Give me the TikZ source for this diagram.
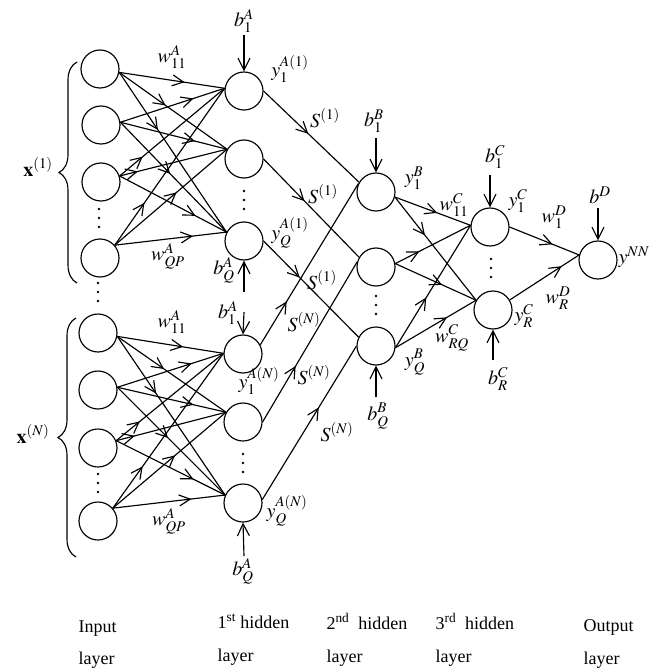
\documentclass[tikz,border=0pt]{standalone}
\usepackage{mathptmx}
\usepackage{fontspec}
\setmainfont{Liberation Serif}
\usetikzlibrary{arrows.meta,decorations.markings,decorations.pathreplacing}
\begin{document}
\begin{tikzpicture}[x=1pt,y=-1pt,line width=1.15pt,
  neuron/.style={circle,draw,minimum size=38pt,inner sep=0pt},
  lab/.style={inner sep=0pt,font=\fontsize{20}{24}\selectfont},
  txt/.style={inner sep=0pt,anchor=base west,font=\fontsize{18}{22}\selectfont},
  biasarr/.style={-{Straight Barb[length=12pt,width=12pt]}},
  midarr/.style={postaction={decorate},decoration={markings,mark=at position #1 with {\arrow{Straight Barb[length=11pt,width=11pt]}}}},
  grpbrace/.style={decorate,decoration={brace,amplitude=18pt}}
]
\path[use as bounding box] (0,0) rectangle (662,671);

% input layer, group 1
\node[neuron] (i1) at (100,69) {};
\node[neuron] (i2) at (101,125) {};
\node[neuron] (i3) at (101,182) {};
\node[neuron] (i4) at (100,258) {};
% input layer, group 2
\node[neuron] (j1) at (98,333) {};
\node[neuron] (j2) at (98,390) {};
\node[neuron] (j3) at (98,448) {};
\node[neuron] (j4) at (98,521) {};
% 1st hidden layer
\node[neuron] (a1) at (244,91) {};
\node[neuron] (a2) at (244,159) {};
\node[neuron] (a3) at (244,241) {};
\node[neuron] (c1) at (243,354) {};
\node[neuron] (c2) at (243,422) {};
\node[neuron] (c3) at (243,503) {};
% 2nd hidden layer
\node[neuron] (b1) at (376,192) {};
\node[neuron] (b2) at (376,267) {};
\node[neuron] (b3) at (376,346) {};
% 3rd hidden layer
\node[neuron] (d1) at (490,227) {};
\node[neuron] (d2) at (493,310) {};
% output
\node[neuron] (o) at (598,260) {};

% input -> 1st hidden
\foreach \s/\sa/\t/\ta/\p in {
  i1/350/a1/172/0.62, i1/350/a2/150/0.43, i1/350/a3/153/0.36,
  i2/8/a1/172/0.70, i2/8/a2/150/0.70, i2/8/a3/153/0.47,
  i3/18/a1/172/0.22, i3/18/a2/150/0.17, i3/18/a3/153/0.71,
  i4/41/a1/172/0.27, i4/41/a2/150/0.55, i4/41/a3/153/0.70,
  j1/350/c1/178/0.62, j1/350/c2/150/0.43, j1/350/c3/156/0.36,
  j2/8/c1/178/0.70, j2/8/c2/150/0.70, j2/8/c3/156/0.47,
  j3/22/c1/178/0.22, j3/22/c2/150/0.17, j3/22/c3/156/0.71,
  j4/41/c1/178/0.27, j4/41/c2/150/0.55, j4/41/c3/156/0.70}
  \draw[midarr=\p] (\s.\sa) -- (\t.\ta);

% 1st hidden -> 2nd hidden
\draw[midarr=0.47] (a1.east) -- (b1.150);
\draw[midarr=0.43] (a2.east) -- (b2.150);
\draw[midarr=0.38] (a3.east) -- (b3.153);
\draw[midarr=0.27] (c1.28) -- (b1.155);
\draw[midarr=0.35] (c2.east) -- (b2.165);
\draw[midarr=0.60] (c3.10) -- (b3.west);

% 2nd hidden -> 3rd hidden
\draw[midarr=0.56] (b1.345) -- (d1.175);
\draw[midarr=0.37] (b1.345) -- (d2.150);
\draw[midarr=0.32] (b2.10) -- (d1.175);
\draw[midarr=0.58] (b2.10) -- (d2.150);
\draw[midarr=0.41] (b3.355) -- (d1.175);
\draw[midarr=0.64] (b3.355) -- (d2.150);

% 3rd hidden -> output
\draw[midarr=0.62] (d1.east) -- (o.165);
\draw[midarr=0.75] (d2.31) -- (o.165);

% biases
\coordinate (ba1) at (244,35);
\coordinate (ba3) at (244,292);
\coordinate (bc1) at (244,312);
\coordinate (bc3) at (244,556);
\coordinate (bb1) at (376,138);
\coordinate (bb3) at (376,397);
\coordinate (bd1) at (490,175);
\coordinate (bd2) at (493,360);
\coordinate (bo) at (598,208);
\draw[biasarr] (ba1) -- (a1.north);
\draw[biasarr] (ba3) -- (a3.south);
\draw[biasarr] (bc1) -- (c1.north);
\draw[biasarr] (bc3) -- (c3.south);
\draw[biasarr] (bb1) -- (b1.north);
\draw[biasarr] (bb3) -- (b3.south);
\draw[biasarr] (bd1) -- (d1.north);
\draw[biasarr] (bd2) -- (d2.south);
\draw[biasarr] (bo) -- (o.north);

% braces
\coordinate (g1b) at (77,283);
\coordinate (g1t) at (77,62);
\coordinate (g2b) at (76,557);
\coordinate (g2t) at (76,318);
\draw[grpbrace] (g1b) -- (g1t);
\draw[grpbrace] (g2b) -- (g2t);
\node[lab] (x1) at (38,167) {$\mathbf{x}^{(1)}$};
\node[lab] (xN) at (33,434) {$\mathbf{x}^{(N)}$};

% vertical dots
\foreach \x/\y in {99/218, 98/292, 98/483, 244/200, 243/463, 376/305, 491/268}
  \foreach \k in {-9,0,9}
    \fill (\x,\y+\k) circle (1.4pt);

% labels, first hidden layer
\node[lab] (lba1) at (244,21) {$b_1^{A}$};
\node[lab] (lya1) at (290,69) {$y_1^{A(1)}$};
\node[lab] (lya3) at (290,233) {$y_Q^{A(1)}$};
\node[lab] (lba3) at (224,270) {$b_Q^{A}$};
\node[lab] (lbc1) at (228,313) {$b_1^{A}$};
\node[lab] (lyc1) at (259,381) {$y_1^{A(N)}$};
\node[lab] (lyc3) at (287,511) {$y_Q^{A(N)}$};
\node[lab] (lbc3) at (243,571) {$b_Q^{A}$};
\node[lab] (lw1) at (172,57) {$w_{11}^{A}$};
\node[lab] (lw2) at (168,256) {$w_{QP}^{A}$};
\node[lab] (lw3) at (172,322) {$w_{11}^{A}$};
\node[lab] (lw4) at (169,521) {$w_{QP}^{A}$};
% S labels
\node[lab] (s1) at (325,118) {$S^{(1)}$};
\node[lab] (s2) at (323,194) {$S^{(1)}$};
\node[lab] (s3) at (322,280) {$S^{(1)}$};
\node[lab] (s4) at (304,322) {$S^{(N)}$};
\node[lab] (s5) at (314,375) {$S^{(N)}$};
\node[lab] (s6) at (337,432) {$S^{(N)}$};
% labels, second hidden layer
\node[lab] (lbb1) at (374,121) {$b_1^{B}$};
\node[lab] (lyb1) at (414,178) {$y_1^{B}$};
\node[lab] (lyb3) at (415,362) {$y_Q^{B}$};
\node[lab] (lbb3) at (378,416) {$b_Q^{B}$};
\node[lab] (lwc1) at (454,205) {$w_{11}^{C}$};
\node[lab] (lwc2) at (452,338) {$w_{RQ}^{C}$};
% labels, third hidden layer
\node[lab] (lbd1) at (495,157) {$b_1^{C}$};
\node[lab] (lyd1) at (518,201) {$y_1^{C}$};
\node[lab] (lyd2) at (524,316) {$y_R^{C}$};
\node[lab] (lbd2) at (498,379) {$b_R^{C}$};
\node[lab] (lwd1) at (554,217) {$w_1^{D}$};
\node[lab] (lwd2) at (558,298) {$w_R^{D}$};
% output labels
\node[lab] (lbo) at (600,195) {$b^{D}$};
\node[lab] (lyo) at (634,257) {$y^{NN}$};

% layer captions
\node[txt] (t1) at (78,632) {Input};
\node[txt] (t1b) at (78,664) {layer};
\node[txt] (t2) at (217,628) {1\textsuperscript{st} hidden};
\node[txt] (t2b) at (217,661) {layer};
\node[txt] (t3) at (326,629) {2\textsuperscript{nd}\ \ hidden};
\node[txt] (t3b) at (326,662) {layer};
\node[txt] (t4) at (435,629) {3\textsuperscript{rd}\ \ hidden};
\node[txt] (t4b) at (435,662) {layer};
\node[txt] (t5) at (583,631) {Output};
\node[txt] (t5b) at (583,664) {layer};
\end{tikzpicture}
\end{document}
